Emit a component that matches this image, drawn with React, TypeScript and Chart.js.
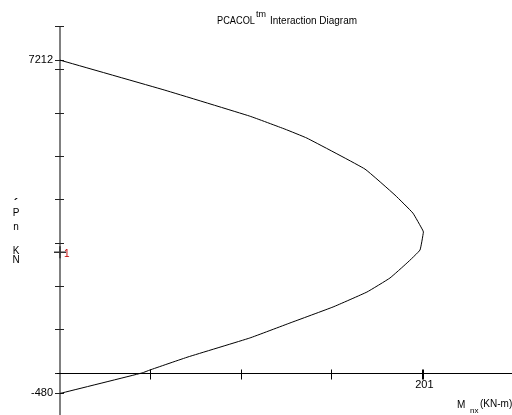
import { useEffect, useRef } from "react";
import { Chart, registerables } from "chart.js";

Chart.register(...registerables);

// Interaction curve: nominal moment Mnx (kN-m) vs axial capacity Pn (kN)
const momentKNm = [0, 58, 105, 124.4, 136.6, 168.7, 185.3, 195.2, 200.6, 201, 199.1, 191.9, 182.5, 169.8, 151, 127.2, 105, 70.8, 49.8, 45.4, 0];
const axialKN = [7212, 6519, 5919, 5620, 5412, 4697, 4097, 3682, 3290, 3244, 2829, 2530, 2184, 1861, 1515, 1146, 800, 362, 62, -7, -480];

// Applied load point(s)
const loadMoment = [0];
const loadAxial = [2780];
const loadLabels = ["1"];

// Axis tick positions and the labelled values
const xTickValues = [50, 100, 150, 200];
const yTickValues = [-1000, 0, 1000, 2000, 3000, 4000, 5000, 6000, 7000, 8000];
const xLabelValues = [201];
const yLabelValues = [7212, -480];

const titleMain = "PCACOL";
const titleSup = "tm";
const titleRest = "Interaction Diagram";
const yTitleChars = ["´", "P", "n", "K", "N"];

const FONT = '"Liberation Sans", Arial, sans-serif';

const diagramPlugin = {
  id: "diagramAxes",
  beforeDatasetsDraw(chart: any) {
    const { ctx } = chart;
    const xs = chart.scales.x;
    const ys = chart.scales.y;
    const x0 = xs.getPixelForValue(0);
    const y0 = ys.getPixelForValue(0);
    ctx.save();
    // vertical axis
    ctx.strokeStyle = "#808080";
    ctx.lineWidth = 2;
    ctx.beginPath();
    ctx.moveTo(x0, ys.getPixelForValue(8000));
    ctx.lineTo(x0, chart.height);
    ctx.stroke();
    // vertical axis ticks
    ctx.strokeStyle = "#222";
    ctx.lineWidth = 1;
    [...yTickValues, ...yLabelValues].forEach((v) => {
      const py = Math.round(ys.getPixelForValue(v)) + 0.5;
      ctx.beginPath();
      ctx.moveTo(x0 - 5, py);
      ctx.lineTo(x0 + 4, py);
      ctx.stroke();
    });
    // horizontal axis
    const hy = Math.round(y0) + 0.5;
    ctx.strokeStyle = "#000";
    ctx.beginPath();
    ctx.moveTo(x0 - 3, hy);
    ctx.lineTo(chart.width, hy);
    ctx.stroke();
    [...xTickValues, ...xLabelValues].forEach((v) => {
      const px = Math.round(xs.getPixelForValue(v)) + 0.5;
      ctx.beginPath();
      ctx.moveTo(px, hy - 4);
      ctx.lineTo(px, hy + 6);
      ctx.stroke();
    });
    ctx.restore();
  },
  afterDraw(chart: any) {
    const { ctx } = chart;
    const xs = chart.scales.x;
    const ys = chart.scales.y;
    const x0 = xs.getPixelForValue(0);
    const y0 = ys.getPixelForValue(0);
    ctx.save();
    ctx.fillStyle = "#000";

    // title
    ctx.textBaseline = "alphabetic";
    ctx.textAlign = "left";
    ctx.font = `11px ${FONT}`;
    ctx.fillText(titleMain, 217, 24, 38);
    ctx.font = `9px ${FONT}`;
    ctx.fillText(titleSup, 256, 17, 11);
    ctx.font = `11px ${FONT}`;
    ctx.fillText(titleRest, 270, 24, 87);

    // vertical axis value labels
    ctx.font = `11px ${FONT}`;
    ctx.textAlign = "right";
    ctx.textBaseline = "middle";
    yLabelValues.forEach((v) => {
      ctx.fillText(String(v), x0 - 7, ys.getPixelForValue(v));
    });

    // horizontal axis value labels
    ctx.textAlign = "center";
    ctx.textBaseline = "top";
    xLabelValues.forEach((v) => {
      ctx.fillText(String(v), xs.getPixelForValue(v) + 1, y0 + 7);
    });

    // vertical axis title, stacked letters
    ctx.textAlign = "center";
    ctx.textBaseline = "middle";
    const yCenters = [204, 213.5, 227.5, 251, 260];
    yTitleChars.forEach((c, i) => {
      ctx.font = i === 0 ? `bold 13px ${FONT}` : `10px ${FONT}`;
      ctx.fillText(c, 16, yCenters[i]);
    });

    // horizontal axis title
    ctx.textAlign = "left";
    ctx.textBaseline = "alphabetic";
    ctx.font = `10px ${FONT}`;
    ctx.fillText("M", 457, 408);
    ctx.font = `8px ${FONT}`;
    ctx.fillText("nx", 470, 413);
    ctx.font = `10px ${FONT}`;
    ctx.fillText("(KN-m)", 480, 407);

    // load point labels
    ctx.fillStyle = "#c00000";
    ctx.font = `10px ${FONT}`;
    ctx.textBaseline = "middle";
    loadLabels.forEach((t, i) => {
      ctx.fillText(t, xs.getPixelForValue(loadMoment[i]) + 4, ys.getPixelForValue(loadAxial[i]) + 2);
    });
    ctx.restore();
  },
};

export default function App() {
  const canvasRef = useRef<HTMLCanvasElement | null>(null);

  useEffect(() => {
    const canvas = canvasRef.current;
    if (!canvas) return;
    const chart = new Chart(canvas, {
      type: "scatter",
      data: {
        datasets: [
          {
            data: momentKNm.map((m, i) => ({ x: m, y: axialKN[i] })),
            showLine: true,
            borderColor: "#000",
            borderWidth: 1,
            pointRadius: 0,
            tension: 0.1,
            clip: false as any,
          },
          {
            data: loadMoment.map((m, i) => ({ x: m, y: loadAxial[i] })),
            pointStyle: "cross",
            pointRadius: 6,
            borderColor: "#333",
            borderWidth: 1.5,
            backgroundColor: "#333",
            clip: false as any,
          },
        ],
      },
      options: {
        responsive: false,
        animation: false,
        devicePixelRatio: 1,
        layout: { autoPadding: false, padding: { left: 60, right: 0, top: 26, bottom: 1.2 } },
        plugins: {
          legend: { display: false },
          tooltip: { enabled: false },
          title: { display: false },
        },
        scales: {
          x: { type: "linear", min: 0, max: 250, display: false },
          y: { type: "linear", min: -950, max: 8000, display: false },
        },
      },
      plugins: [diagramPlugin],
    });
    return () => chart.destroy();
  }, []);

  return (
    <div style={{ position: "absolute", left: 0, top: 0, width: 512, height: 415, background: "#fff" }}>
      <canvas ref={canvasRef} width={512} height={415} style={{ display: "block" }} />
    </div>
  );
}
